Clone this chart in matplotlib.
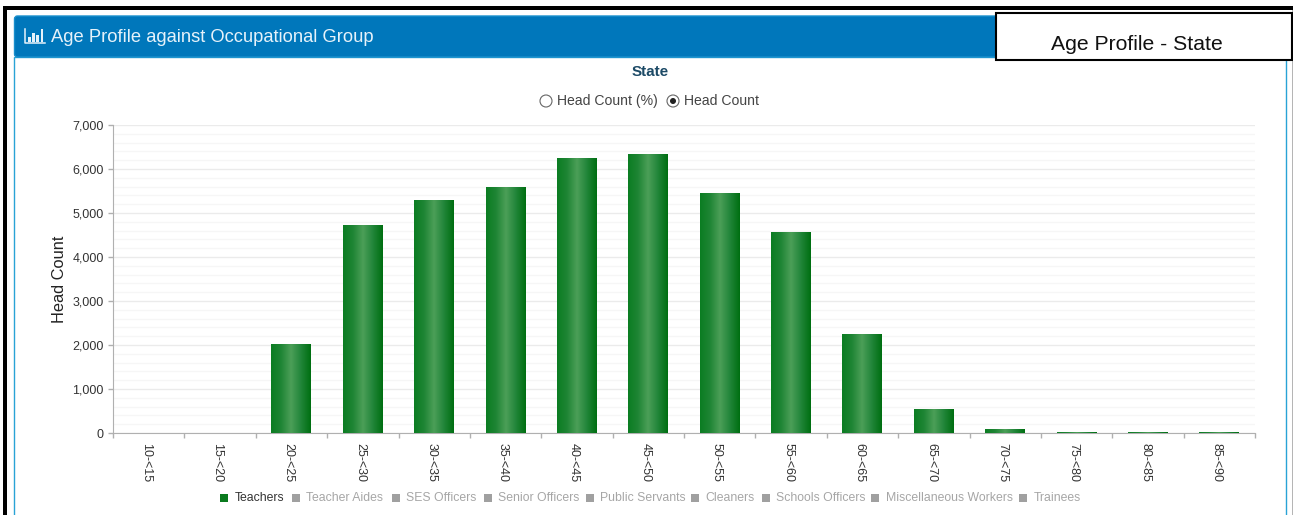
import numpy as np
import matplotlib
matplotlib.use('Agg')
import matplotlib.pyplot as plt
from matplotlib.colors import LinearSegmentedColormap
from matplotlib.patches import Rectangle, Circle, FancyBboxPatch

W, H = 1293, 515

age_groups = ['10-<15', '15-<20', '20-<25', '25-<30', '30-<35', '35-<40', '40-<45', '45-<50',
              '50-<55', '55-<60', '60-<65', '65-<70', '70-<75', '75-<80', '80-<85', '85-<90']
teachers = [0, 0, 2020, 4730, 5290, 5590, 6260, 6350, 5450, 4570, 2260, 540, 100, 20, 15, 15]
y_ticks = [0, 1000, 2000, 3000, 4000, 5000, 6000, 7000]
legend_names = ['Teachers', 'Teacher Aides', 'SES Officers', 'Senior Officers', 'Public Servants',
                'Cleaners', 'Schools Officers', 'Miscellaneous Workers', 'Trainees']
legend_x = [220, 292, 392, 484, 586, 691, 762, 871, 1019]

plt.rcParams['font.family'] = ['Liberation Sans', 'DejaVu Sans']

fig = plt.figure(figsize=(W / 100, H / 100), dpi=100)

# page furniture, in pixel coordinates
bg = fig.add_axes([0, 0, 1, 1])
bg.set_xlim(0, W)
bg.set_ylim(H, 0)
bg.axis('off')
bg.add_patch(Rectangle((3, 6), W, 3.5, color='black', lw=0))
bg.add_patch(Rectangle((3, 6), 3.5, H, color='black', lw=0))
bg.add_patch(Rectangle((1291.5, 10), 1.5, H, color='#b5b5b5', lw=0))
bg.add_patch(Rectangle((14, 57), 1271.5, H, fc='white', ec='#29a3d6', lw=1))
bg.add_patch(FancyBboxPatch((14.5, 16), 1271, 41, boxstyle='round,pad=0,rounding_size=3',
                            fc='#0077bb', ec='#1a8fcc', lw=1))

# little bar chart icon in the header
bg.plot([25, 25, 45], [29, 43, 43], color='#e6f2fa', lw=1.1)
for bx, btop in zip([28, 32, 36, 40.5], [37, 33, 35, 29]):
    bg.add_patch(Rectangle((bx, btop), 2.8, 41.5 - btop, color='#e6f2fa', lw=0))
bg.text(51, 37.5, 'Age Profile against Occupational Group', color='#e6f2fa', fontsize=13.2,
        va='center', ha='left')

bg.add_patch(Rectangle((995.5, 12.5), 296, 47.5, fc='white', ec='black', lw=1.5, zorder=5))
bg.text(1137, 44.5, 'Age Profile - State', color='#111111', fontsize=15.2, ha='center', va='center', zorder=6)

bg.text(650.5, 72, 'State', color='#1c4a66', fontsize=11, fontweight='bold', ha='center', va='center')

# radio buttons
bg.add_patch(Circle((546, 101), 6, fc='white', ec='#666666', lw=0.8))
bg.text(557, 101, 'Head Count (%)', color='#444444', fontsize=10.1, ha='left', va='center')
bg.add_patch(Circle((673, 101), 6, fc='white', ec='#666666', lw=0.8))
bg.add_patch(Circle((673, 101), 3, fc='#222222', lw=0))
bg.text(684, 101, 'Head Count', color='#444444', fontsize=10.1, ha='left', va='center')

# chart
ax = fig.add_axes([113 / W, 1 - 433 / H, (1255 - 113) / W, (433 - 125) / H])
ax.patch.set_alpha(0)
x = np.arange(len(age_groups))
bars = ax.bar(x, teachers, width=0.56, color='#0a7a1e', edgecolor='none', zorder=3)

cmap = LinearSegmentedColormap.from_list('bar', ['#0b7d22', '#1f8535', '#4c9f58', '#22863a', '#006f12'])
grad = np.linspace(0, 1, 64).reshape(1, -1)
for b, val in zip(bars, teachers):
    if val <= 0:
        continue
    im = ax.imshow(grad, cmap=cmap, aspect='auto', zorder=4,
                   extent=[b.get_x(), b.get_x() + b.get_width(), 0, val])
    im.set_clip_path(b)

ax.set_xlim(-0.5, len(age_groups) - 0.5)
ax.set_ylim(0, 7000)

ax.set_yticks(y_ticks)
ax.set_yticklabels([f'{v:,}' for v in y_ticks], color='#333333', fontsize=9)
ax.set_yticks(np.arange(0, 7001, 200), minor=True)
ax.grid(True, axis='y', which='major', color='#ebebeb', lw=1, zorder=0)
ax.grid(True, axis='y', which='minor', color='#f6f6f6', lw=1, zorder=0)
ax.set_axisbelow(True)

ax.set_xticks(np.arange(-0.5, len(age_groups)), minor=False)
ax.set_xticklabels([])
ax.tick_params(axis='x', which='major', length=3.6, color='#b0b0b0', width=1)
ax.tick_params(axis='y', which='major', length=3.6, color='#b0b0b0', width=1, pad=3)
ax.tick_params(axis='y', which='minor', length=0)

for xi, lab in zip(x, age_groups):
    ax.annotate(lab, (xi, 0), xytext=(-2, -7.5), textcoords='offset points', rotation=-90,
                ha='center', va='top', fontsize=9, color='#333333')

for side in ['top', 'right']:
    ax.spines[side].set_visible(False)
for side in ['left', 'bottom']:
    ax.spines[side].set_color('#b0b0b0')
ax.set_ylabel('Head Count', fontsize=11.8, color='#222222', labelpad=4)

# legend, only the first series is switched on
for i, (name, lx) in enumerate(zip(legend_names, legend_x)):
    on = i == 0
    bg.add_patch(Rectangle((lx, 494), 8, 8, color='#0a7a1e' if on else '#a0a0a0', lw=0))
    bg.text(lx + 14.5, 498, name, fontsize=8.8, va='center', ha='left',
            color='#333333' if on else '#a6a6a6')

fig.savefig('out.png', dpi=100)
